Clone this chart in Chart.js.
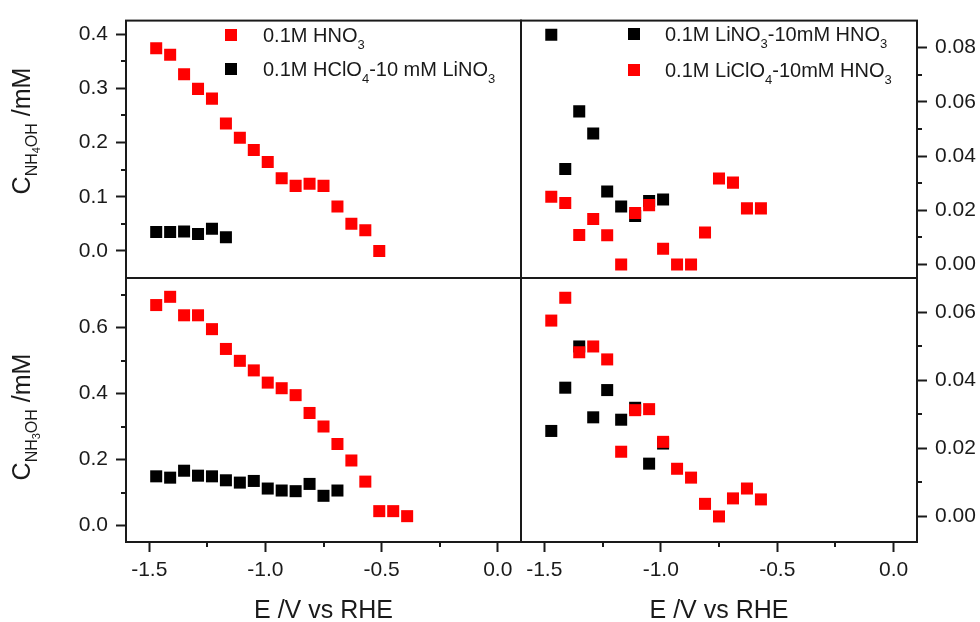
<!DOCTYPE html>
<html>
<head>
<meta charset="utf-8">
<script src="https://cdn.jsdelivr.net/npm/chart.js@4.4.1/dist/chart.umd.min.js"></script>
<style>
  html, body { margin: 0; padding: 0; background: #fff; }
  #wrap { position: relative; width: 980px; height: 622px; overflow: hidden; background: #fff; }
  #wrap canvas { position: absolute; left: 0; top: 0; }
</style>
</head>
<body>
<div id="wrap">
  <canvas id="tl" width="980" height="622"></canvas>
  <canvas id="tr" width="980" height="622"></canvas>
  <canvas id="bl" width="980" height="622"></canvas>
  <canvas id="br" width="980" height="622"></canvas>
</div>
<script>
// electrode potential (V vs RHE), shared by every series
const potential = [-1.47, -1.41, -1.35, -1.29, -1.23, -1.17, -1.11, -1.05, -0.99, -0.93,
                   -0.87, -0.81, -0.75, -0.69, -0.63, -0.57, -0.51, -0.45, -0.39];

// NH4OH concentration (mM)
const nh4Hno3   = [0.374, 0.362, 0.326, 0.299, 0.281, 0.235, 0.209, 0.186, 0.164, 0.134,
                   0.120, 0.124, 0.120, 0.082, 0.050, 0.038, 0.000];
const nh4Hclo4  = [0.035, 0.035, 0.036, 0.031, 0.041, 0.025];
const nh4Lino3  = [0.0848, 0.0352, 0.0565, 0.0483, 0.0269, 0.0214, 0.0179, 0.0234, 0.0240];
const nh4Liclo4 = [0.0250, 0.0227, 0.0109, 0.0168, 0.0108, 0.0000, 0.0190, 0.0219, 0.0058, 0.0000,
                   0.0000, 0.0118, 0.0317, 0.0302, 0.0207, 0.0207];

// NH3OH concentration (mM)
const nh3Hno3   = [0.668, 0.693, 0.637, 0.637, 0.595, 0.535, 0.499, 0.470, 0.433, 0.416,
                   0.395, 0.341, 0.300, 0.247, 0.197, 0.133, 0.0435, 0.0435, 0.0283];
const nh3Hclo4  = [0.149, 0.145, 0.166, 0.151, 0.149, 0.137, 0.130, 0.135, 0.112, 0.106,
                   0.104, 0.126, 0.090, 0.106];
const nh3Lino3  = [0.0251, 0.0378, 0.0499, 0.0291, 0.0371, 0.0284, 0.0319, 0.0155, 0.0214];
const nh3Liclo4 = [0.0575, 0.0642, 0.0482, 0.0499, 0.0461, 0.0190, 0.0312, 0.0315, 0.0219, 0.0140,
                   0.0114, 0.0037, 0.0000, 0.0053, 0.0082, 0.0050];

// tick labels
const ticksE      = [-1.5, -1.0, -0.5, 0.0];
const ticksNH4    = [0.0, 0.1, 0.2, 0.3, 0.4];
const ticksNH4Li  = [0.00, 0.02, 0.04, 0.06, 0.08];
const ticksNH3    = [0.0, 0.2, 0.4, 0.6];
const ticksNH3Li  = [0.00, 0.02, 0.04, 0.06];

const RED = '#ff0000';
const BLACK = '#000000';
const INK = '#1a1a1a';
const FONT = "'Liberation Sans', Arial, sans-serif";

// panel edges in page pixels
const W = 980, HGT = 622;
const LEFT = 126, MID = 521, RIGHT = 917, TOP = 14, ROW = 278, BOTTOM = 542;

// text made of runs: [text, size, baseline shift]
function runsWidth(ctx, runs) {
  let w = 0;
  runs.forEach(r => { ctx.font = r[1] + 'px ' + FONT; w += ctx.measureText(r[0]).width; });
  return w;
}
function drawRuns(ctx, runs, x, y) {
  runs.forEach(r => {
    ctx.font = r[1] + 'px ' + FONT;
    ctx.fillText(r[0], x, y + r[2]);
    x += ctx.measureText(r[0]).width;
  });
}

const panelPlugin = {
  id: 'panel',
  afterDraw(chart, args, opts) {
    const ctx = chart.ctx;
    const a = chart.chartArea;
    ctx.save();
    ctx.strokeStyle = INK;
    ctx.fillStyle = INK;
    ctx.lineWidth = 2;

    // frame
    ctx.strokeRect(a.left, a.top, a.right - a.left, a.bottom - a.top);

    // minor ticks
    const ys = chart.scales.y;
    const xs = chart.scales.x;
    ctx.beginPath();
    (opts.minorY || []).forEach(v => {
      const py = Math.round(ys.getPixelForValue(v));
      if (opts.yRight) { ctx.moveTo(a.right, py); ctx.lineTo(a.right + 5, py); }
      else { ctx.moveTo(a.left - 5, py); ctx.lineTo(a.left, py); }
    });
    (opts.minorX || []).forEach(v => {
      const px = Math.round(xs.getPixelForValue(v));
      ctx.moveTo(px, a.bottom); ctx.lineTo(px, a.bottom + 5);
    });
    ctx.stroke();

    ctx.textBaseline = 'alphabetic';
    ctx.textAlign = 'left';

    // x title
    if (opts.xTitle) {
      const w = runsWidth(ctx, opts.xTitle);
      drawRuns(ctx, opts.xTitle, (a.left + a.right) / 2 - w / 2, 618);
    }

    // y title, rotated
    if (opts.yTitle) {
      const w = runsWidth(ctx, opts.yTitle);
      ctx.save();
      ctx.translate(30, opts.yTitleCenter);
      ctx.rotate(-Math.PI / 2);
      drawRuns(ctx, opts.yTitle, -w / 2, 0);
      ctx.restore();
    }

    // legend
    (opts.legend || []).forEach(item => {
      ctx.fillStyle = item.color;
      ctx.fillRect(item.x - 6, item.y - 6, 12, 12);
      ctx.fillStyle = INK;
      drawRuns(ctx, item.text, item.tx, item.y + 7);
    });
    ctx.restore();
  }
};

function makePanel(id, p) {
  const tickFont = { family: FONT, size: 21 };
  return new Chart(document.getElementById(id), {
    type: 'scatter',
    data: {
      datasets: p.series.map(s => ({
        label: s.label,
        data: s.values.map((v, i) => ({ x: potential[i], y: v })),
        pointStyle: 'rect',
        pointRadius: 8.5,
        pointHoverRadius: 8.5,
        backgroundColor: s.color,
        borderColor: s.color,
        borderWidth: 0,
        showLine: false
      }))
    },
    options: {
      responsive: false,
      animation: false,
      events: [],
      layout: { padding: p.padding },
      plugins: {
        legend: { display: false },
        tooltip: { enabled: false },
        panel: p.panel
      },
      scales: {
        x: {
          type: 'linear',
          min: -1.6,
          max: 0.1,
          display: p.showX,
          afterBuildTicks: s => { s.ticks = ticksE.map(v => ({ value: v })); },
          afterFit: s => { s.height = p.showX ? 80 : 0; },
          ticks: {
            font: tickFont, color: INK, padding: 6, maxRotation: 0, autoSkip: false,
            callback: v => v.toFixed(1)
          },
          grid: { drawOnChartArea: false, drawTicks: true, tickLength: 10, tickWidth: 2, tickColor: INK },
          border: { display: false }
        },
        y: {
          type: 'linear',
          position: p.yPos,
          min: p.yMin,
          max: p.yMax,
          afterBuildTicks: s => { s.ticks = p.yTicks.map(v => ({ value: v })); },
          afterFit: s => { s.width = p.yWidth; },
          ticks: {
            font: tickFont, color: INK, padding: 8, autoSkip: false,
            callback: v => v.toFixed(p.dec)
          },
          grid: { drawOnChartArea: false, drawTicks: true, tickLength: 10, tickWidth: 2, tickColor: INK },
          border: { display: false }
        }
      }
    },
    plugins: [panelPlugin]
  });
}

const xTitle = [['E /V vs RHE', 25, 0]];

// NH4OH, HNO3 vs HClO4
makePanel('tl', {
  padding: { left: 0, top: TOP, right: W - MID, bottom: HGT - ROW },
  showX: false, yPos: 'left', yWidth: LEFT, yMin: -0.05, yMax: 0.425,
  yTicks: ticksNH4, dec: 1,
  series: [
    { label: '0.1M HNO3', values: nh4Hno3, color: RED },
    { label: '0.1M HClO4-10 mM LiNO3', values: nh4Hclo4, color: BLACK }
  ],
  panel: {
    minorY: [0.05, 0.15, 0.25, 0.35],
    yTitle: [['C', 25, 0], ['NH', 16, 7], ['4', 11, 10], ['OH', 16, 7], [' /mM', 25, 0]],
    yTitleCenter: 131,
    legend: [
      { color: RED, x: 231, y: 35, tx: 263,
        text: [['0.1M HNO', 20, 0], ['3', 13, 7]] },
      { color: BLACK, x: 231, y: 69, tx: 263,
        text: [['0.1M HClO', 20, 0], ['4', 13, 7], ['-10 mM LiNO', 20, 0], ['3', 13, 7]] }
    ]
  }
});

// NH4OH, Li+ electrolytes
makePanel('tr', {
  padding: { left: MID, top: TOP, right: 0, bottom: HGT - ROW },
  showX: false, yPos: 'right', yWidth: W - RIGHT, yMin: -0.005, yMax: 0.09,
  yTicks: ticksNH4Li, dec: 2,
  series: [
    { label: '0.1M LiClO4-10mM HNO3', values: nh4Liclo4, color: RED },
    { label: '0.1M LiNO3-10mM HNO3', values: nh4Lino3, color: BLACK }
  ],
  panel: {
    yRight: true,
    minorY: [0.01, 0.03, 0.05, 0.07],
    legend: [
      { color: BLACK, x: 634, y: 34, tx: 665,
        text: [['0.1M LiNO', 20, 0], ['3', 13, 7], ['-10mM HNO', 20, 0], ['3', 13, 7]] },
      { color: RED, x: 634, y: 70, tx: 665,
        text: [['0.1M LiClO', 20, 0], ['4', 13, 7], ['-10mM HNO', 20, 0], ['3', 13, 7]] }
    ]
  }
});

// NH3OH, HNO3 vs HClO4
makePanel('bl', {
  padding: { left: 0, top: ROW, right: W - MID, bottom: 0 },
  showX: true, yPos: 'left', yWidth: LEFT, yMin: -0.05, yMax: 0.75,
  yTicks: ticksNH3, dec: 1,
  series: [
    { label: '0.1M HNO3', values: nh3Hno3, color: RED },
    { label: '0.1M HClO4-10 mM LiNO3', values: nh3Hclo4, color: BLACK }
  ],
  panel: {
    minorY: [0.1, 0.3, 0.5, 0.7],
    minorX: [-1.25, -0.75, -0.25],
    xTitle: xTitle,
    yTitle: [['C', 25, 0], ['NH', 16, 7], ['3', 11, 10], ['OH', 16, 7], [' /mM', 25, 0]],
    yTitleCenter: 417
  }
});

// NH3OH, Li+ electrolytes
makePanel('br', {
  padding: { left: MID, top: ROW, right: 0, bottom: 0 },
  showX: true, yPos: 'right', yWidth: W - RIGHT, yMin: -0.0075, yMax: 0.07,
  yTicks: ticksNH3Li, dec: 2,
  series: [
    { label: '0.1M LiClO4-10mM HNO3', values: nh3Liclo4, color: RED },
    { label: '0.1M LiNO3-10mM HNO3', values: nh3Lino3, color: BLACK }
  ],
  panel: {
    yRight: true,
    minorY: [0.01, 0.03, 0.05],
    minorX: [-1.25, -0.75, -0.25],
    xTitle: xTitle
  }
});
</script>
</body>
</html>
